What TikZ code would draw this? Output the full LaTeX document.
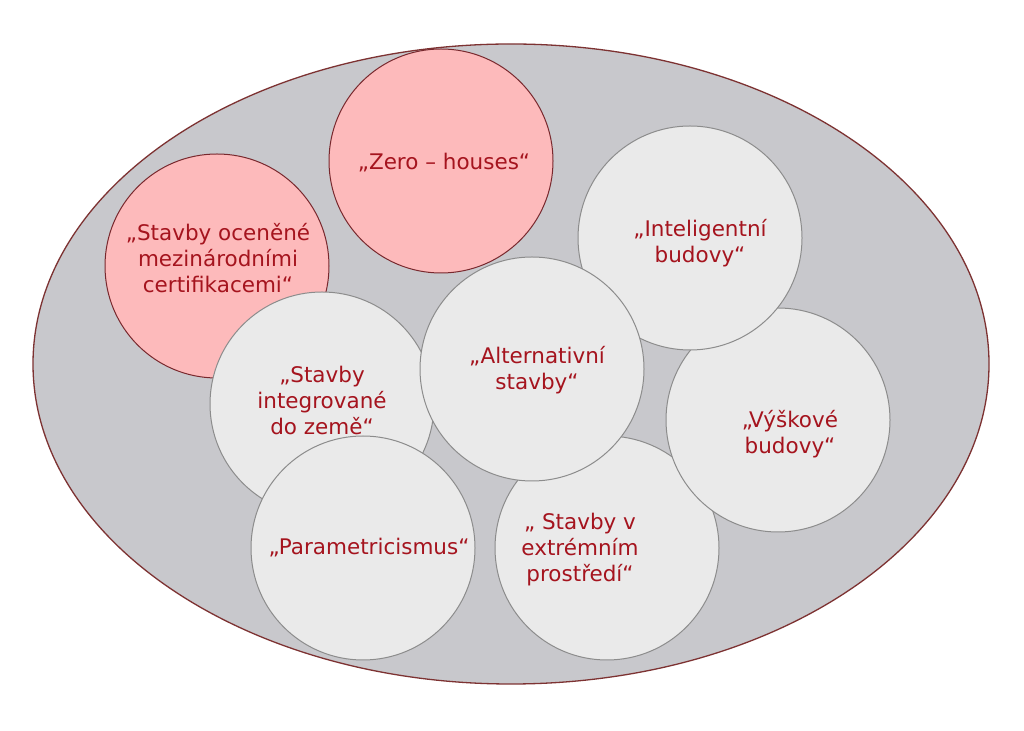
\documentclass[tikz,border=0pt]{standalone}
\usepackage{fontspec}
\setmainfont{DejaVu Sans}
\definecolor{ellfill}{RGB}{200,200,204}
\definecolor{ellline}{RGB}{125,50,50}
\definecolor{pinkfill}{RGB}{253,186,187}
\definecolor{pinkline}{RGB}{120,40,45}
\definecolor{greyfill}{RGB}{234,234,234}
\definecolor{greyline}{RGB}{140,140,140}
\definecolor{txt}{RGB}{165,20,30}
\begin{document}
\begin{tikzpicture}[x=1pt,y=1pt,
  pinkc/.style={circle,draw=pinkline,fill=pinkfill,line width=1pt,minimum size=224pt,inner sep=0pt},
  greyc/.style={circle,draw=greyline,fill=greyfill,line width=1pt,minimum size=224pt,inner sep=0pt},
  lbl/.style={text=txt,align=center,font=\fontsize{21.5}{26}\selectfont,inner sep=0pt}]
\useasboundingbox (0,0) rectangle (1024,730);
\fill[white] (0,0) rectangle (1024,730);
\draw[fill=ellfill,draw=ellline,line width=1.3pt] (511,366) ellipse [x radius=478, y radius=320];
% circles (y = 730 - py)
\node[pinkc] (c1) at (217,464) {};
\node[pinkc] (c2) at (441,569) {};
\node[greyc] (c3) at (322,326) {};
\node[greyc] (c4) at (363,182) {};
\node[greyc] (c5) at (607,182) {};
\node[greyc] (c6) at (778,310) {};
\node[greyc] (c7) at (690,492) {};
\node[greyc] (c8) at (532,361) {};
% labels
\node[lbl] (t1) at (218,472) {„Stavby oceněné\\mezinárodními\\certifikacemi“};
\node[lbl] (t2) at (444,567) {„Zero – houses“};
\node[lbl] (t3) at (322,330) {„Stavby\\integrované\\do země“};
\node[lbl] (t4) at (369,182) {„Parametricismus“};
\node[lbl] (t5) at (580,180) {„ Stavby v\\extrémním\\prostředí“};
\node[lbl] (t6) at (790,296) {„Výškové\\budovy“};
\node[lbl] (t7) at (700,487) {„Inteligentní\\budovy“};
\node[lbl] (t8) at (537,360) {„Alternativní\\stavby“};
\end{tikzpicture}
\end{document}
